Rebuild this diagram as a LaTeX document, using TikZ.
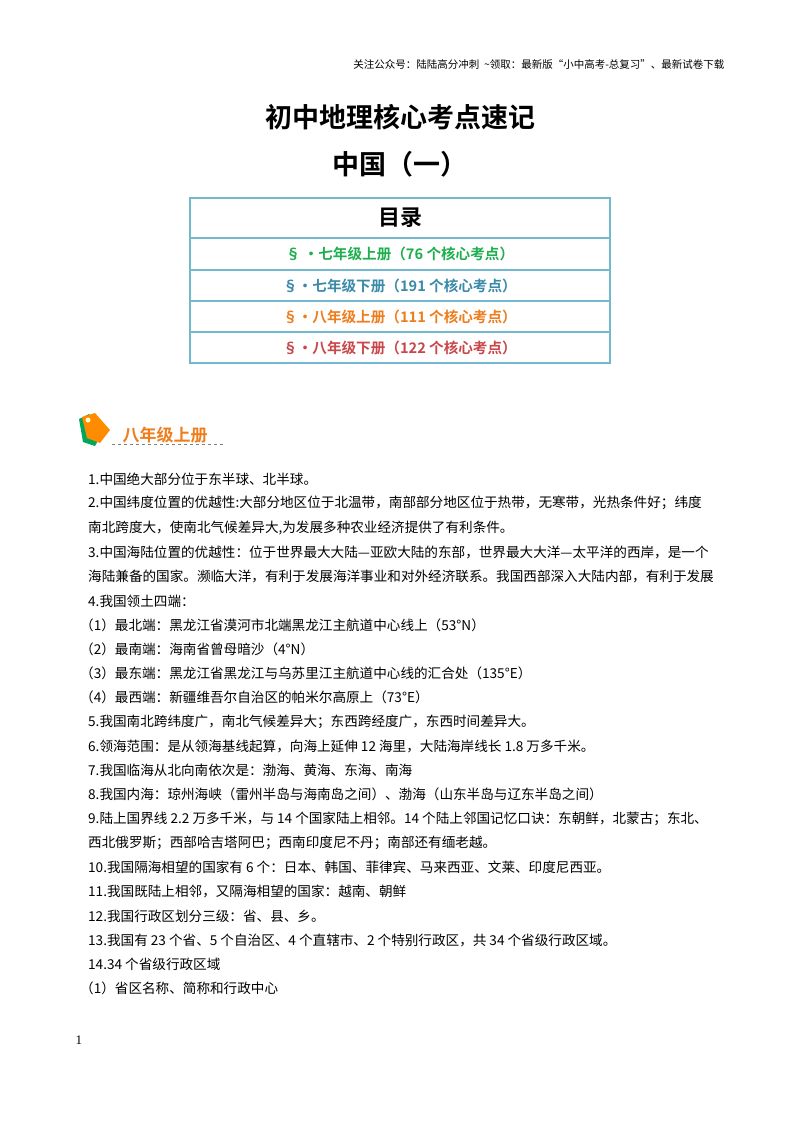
\documentclass[tikz,border=0pt]{standalone}
\usepackage{fontspec}
\setmainfont{Liberation Serif}
\newfontfamily\cjk{Noto Sans CJK SC}
\newfontfamily\cjkb{Noto Sans CJK SC Bold}
\definecolor{tb}{HTML}{72B8CF}
\definecolor{cg}{HTML}{1DAE4E}
\definecolor{cb}{HTML}{3A8AA8}
\definecolor{co}{HTML}{EE7D1C}
\definecolor{cr}{HTML}{C9474B}
\begin{document}
\begin{tikzpicture}[x=1pt,y=-1pt,
 body/.style={anchor=west,inner sep=0,font=\cjk\fontsize{13.6}{15}\selectfont},
 row/.style={font=\cjkb\fontsize{14.6}{16}\selectfont}]
\useasboundingbox (0,0) rectangle (800,1132);
\node[anchor=east,font=\cjk\fontsize{10.5}{12}\selectfont] (hd) at (728,64) {关注公众号：陆陆高分冲刺\ \ \textasciitilde 领取：最新版“小中高考-总复习”、最新试卷下载};
\node[font=\cjkb\fontsize{27}{30}\selectfont] (t1) at (400,117) {初中地理核心考点速记};
\node[font=\cjkb\fontsize{27}{30}\selectfont] (t2) at (400,164) {中国（一）};
\draw[tb,line width=1.5] (190,198) rectangle (610,363);
\foreach \y in {238,270,301,332} \draw[tb,line width=1.2] (190,\y) -- (610,\y);
\node[font=\cjkb\fontsize{22}{24}\selectfont] (ml) at (400,218) {目录};
\node[row,text=cg] (r1) at (400,254) {§ ·七年级上册（76 个核心考点）};
\node[row,text=cb] (r2) at (400,285.5) {§·七年级下册（191 个核心考点）};
\node[row,text=co] (r3) at (400,316.5) {§·八年级上册（111 个核心考点）};
\node[row,text=cr] (r4) at (400,347.5) {§·八年级下册（122 个核心考点）};
% tag icon
\fill[teal!70!green] (79,419) -- (89,414) -- (103,432) -- (95,446) -- (83,442) -- cycle;
\fill[orange!90!yellow] (82,417) -- (95,413) -- (110,430) -- (100,443) -- (87,438) -- cycle;
\fill[white!80!yellow] (88,420) circle (2.5);
\node[anchor=west,text=co,font=\cjkb\fontsize{17}{19}\selectfont] (sec) at (119,435) {八年级上册};
\draw[gray,dashed] (112,444) -- (224,444);
\node[body] (l1) at (88,479) {1.中国绝大部分位于东半球、北半球。};
\node[body] (l2) at (88,503) {2.中国纬度位置的优越性:大部分地区位于北温带，南部部分地区位于热带，无寒带，光热条件好；纬度};
\node[body] (l3) at (88,528) {南北跨度大，使南北气候差异大,为发展多种农业经济提供了有利条件。};
\node[body] (l4) at (88,552) {3.中国海陆位置的优越性：位于世界最大大陆—亚欧大陆的东部，世界最大大洋—太平洋的西岸，是一个};
\node[body] (l5) at (88,576) {海陆兼备的国家。濒临大洋，有利于发展海洋事业和对外经济联系。我国西部深入大陆内部，有利于发展};
\node[body] (l6) at (88,601) {4.我国领土四端：};
\node[body] (l7) at (80,625) {（1）最北端：黑龙江省漠河市北端黑龙江主航道中心线上（53°N）};
\node[body] (l8) at (80,649) {（2）最南端：海南省曾母暗沙（4°N）};
\node[body] (l9) at (80,673) {（3）最东端：黑龙江省黑龙江与乌苏里江主航道中心线的汇合处（135°E）};
\node[body] (l10) at (80,697) {（4）最西端：新疆维吾尔自治区的帕米尔高原上（73°E）};
\node[body] (l11) at (88,722) {5.我国南北跨纬度广，南北气候差异大；东西跨经度广，东西时间差异大。};
\node[body] (l12) at (88,746) {6.领海范围：是从领海基线起算，向海上延伸 12 海里，大陆海岸线长 1.8 万多千米。};
\node[body] (l13) at (88,770) {7.我国临海从北向南依次是：渤海、黄海、东海、南海};
\node[body] (l14) at (88,794) {8.我国内海：琼州海峡（雷州半岛与海南岛之间）、渤海（山东半岛与辽东半岛之间）};
\node[body] (l15) at (88,819) {9.陆上国界线 2.2 万多千米，与 14 个国家陆上相邻。14 个陆上邻国记忆口诀：东朝鲜，北蒙古；东北、};
\node[body] (l16) at (88,843) {西北俄罗斯；西部哈吉塔阿巴；西南印度尼不丹；南部还有缅老越。};
\node[body] (l17) at (88,867) {10.我国隔海相望的国家有 6 个：日本、韩国、菲律宾、马来西亚、文莱、印度尼西亚。};
\node[body] (l18) at (88,891) {11.我国既陆上相邻，又隔海相望的国家：越南、朝鲜};
\node[body] (l19) at (88,916) {12.我国行政区划分三级：省、县、乡。};
\node[body] (l20) at (88,940) {13.我国有 23 个省、5 个自治区、4 个直辖市、2 个特别行政区，共 34 个省级行政区域。};
\node[body] (l21) at (88,964) {14.34 个省级行政区域};
\node[body] (l22) at (80,988) {（1）省区名称、简称和行政中心};
\node[anchor=west,font=\fontsize{13}{15}\selectfont] (pg) at (72,1040) {1};
\end{tikzpicture}
\end{document}
